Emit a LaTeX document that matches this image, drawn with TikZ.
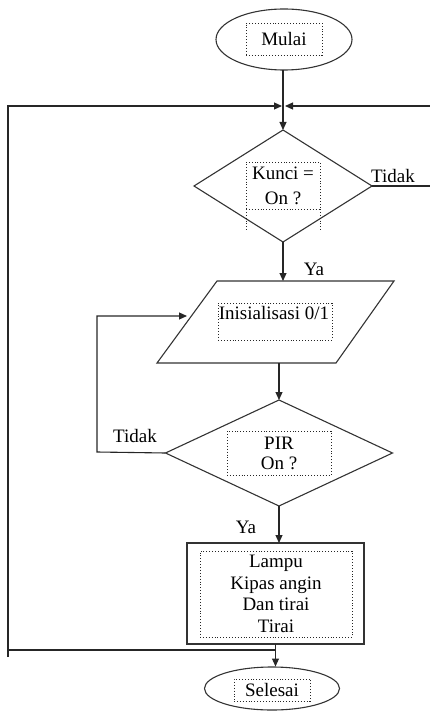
\documentclass[tikz,border=0pt]{standalone}
\usepackage{fontspec}
\setmainfont{Liberation Serif}
\usetikzlibrary{shapes.geometric,arrows.meta}
\begin{document}
\begin{tikzpicture}[x=1pt,y=-1pt,
  every node/.style={inner sep=0pt,outer sep=0pt,font=\fontsize{19}{21.5}\selectfont},
  shapeline/.style={draw=black!80,line width=1.1pt},
  dotbox/.style={draw=black!85,dotted,line width=0.9pt,align=center},
  conn/.style={draw=black!85,line width=1.1pt},
  arr/.style={conn,-{Triangle[length=8pt,width=7pt]}},
  lbl/.style={font=\fontsize{19}{21.5}\selectfont}]
\useasboundingbox (0,0) rectangle (430,711);
\clip (0,0) rectangle (430,711);

% shapes
\node[shapeline,ellipse,minimum width=136pt,minimum height=61pt] (mulai) at (284,39.5) {};
\node[dotbox,minimum width=76pt,minimum height=32pt] (mulaitxt) at (284,39) {Mulai};

\node[shapeline,diamond,minimum width=178pt,minimum height=112pt] (kunci) at (283,186) {};
\node[dotbox,minimum width=74pt,minimum height=47pt,font=\fontsize{19}{25}\selectfont] (kuncitxt) at (283,185.5) {Kunci =\\On ?};
\draw[dotted,line width=0.9pt,draw=black!85] (kuncitxt.south west) -- ++(0,23);
\draw[dotted,line width=0.9pt,draw=black!85] (kuncitxt.south east) -- ++(0,23);

\draw[shapeline] (217,281) -- (394,281) -- (336,363) -- (157,363) -- cycle;
\coordinate (initN) at (283,281);
\coordinate (initS) at (279,363);
\coordinate (initW) at (187,316);
\node[dotbox,minimum width=114pt,minimum height=37pt] (initbox) at (275,321.5) {};
\node (inittxt) at (274,313) {Inisialisasi 0/1};

\node[shapeline,diamond,minimum width=227pt,minimum height=106pt] (pir) at (279,453) {};
\node[dotbox,minimum width=104pt,minimum height=44pt,font=\fontsize{19}{20}\selectfont] (pirtxt) at (279,453) {PIR\\On ?};

\node[shapeline,rectangle,minimum width=177pt,minimum height=101pt] (aksi) at (275.5,593.5) {};
\node[dotbox,minimum width=152pt,minimum height=86pt] (aksitxt) at (276,594) {Lampu\\Kipas angin\\Dan tirai\\Tirai};

\node[shapeline,ellipse,minimum width=135pt,minimum height=43pt] (selesai) at (272,688.5) {};
\node[dotbox,minimum width=76pt,minimum height=22pt] (selesaitxt) at (272,690) {Selesai};

% labels
\node[lbl] (tidak1) at (393,176) {Tidak};
\node[lbl] (ya1) at (314,269) {Ya};
\node[lbl] (tidak2) at (135,436) {Tidak};
\node[lbl] (ya2) at (246,527) {Ya};

% connectors
\coordinate (junc) at (283,106);
\coordinate (lt) at (8,106);
\coordinate (lb) at (8,657);
\coordinate (rt) at (433,106);
\coordinate (rb) at (433,186);
\coordinate (bl) at (7,650);
\coordinate (bj) at (275.5,650);
\coordinate (pl) at (97,452);
\coordinate (plt) at (97,316);

\draw[arr] (mulai.south -| kunci.north) -- (kunci.north);
\draw[arr] (lb) -- (lt) -- ([xshift=-1pt]junc);
\draw[arr] (kunci.east) -- (rb) -- (rt) -- ([xshift=2pt]junc);
\draw[arr] (kunci.south) -- (initN);
\draw[arr] (initS) -- (pir.north);
\draw[arr] (pir.west) -- (pl) -- (plt) -- (initW);
\draw[arr] (pir.south) -- (pir.south |- aksi.north);
\draw[arr] (aksi.south) -- ([yshift=0.5pt]aksi.south |- selesai.north);
\draw[conn] (bl) -- (bj);
\end{tikzpicture}
\end{document}
